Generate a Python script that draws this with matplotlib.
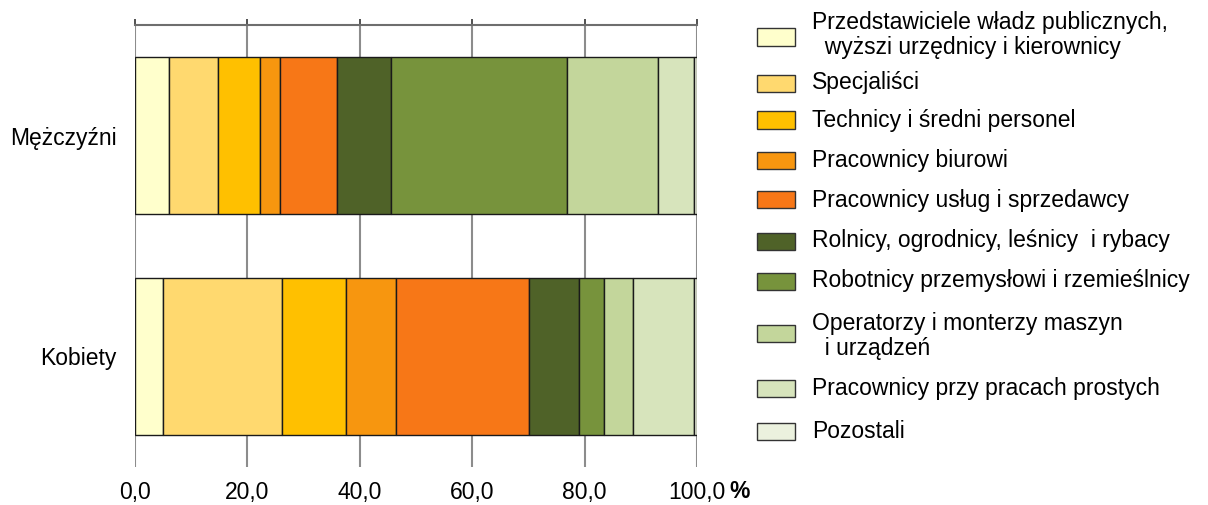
import matplotlib
matplotlib.use("Agg")
import matplotlib.pyplot as plt
from matplotlib.patches import Rectangle
import numpy as np

plt.rcParams['font.family'] = ['Liberation Sans', 'DejaVu Sans']

categories = ["Kobiety", "Mężczyźni"]
groups = [
    "Przedstawiciele władz publicznych,\n  wyższi urzędnicy i kierownicy",
    "Specjaliści",
    "Technicy i średni personel",
    "Pracownicy biurowi",
    "Pracownicy usług i sprzedawcy",
    "Rolnicy, ogrodnicy, leśnicy  i rybacy",
    "Robotnicy przemysłowi i rzemieślnicy",
    "Operatorzy i monterzy maszyn\n  i urządzeń",
    "Pracownicy przy pracach prostych",
    "Pozostali",
]
kobiety = [5.0, 21.1, 11.5, 8.9, 23.6, 8.9, 4.5, 5.1, 10.8, 0.6]
mezczyzni = [6.1, 8.6, 7.6, 3.5, 10.1, 9.6, 31.4, 16.1, 6.5, 0.5]
colors = ["#FFFFCC", "#FFD96F", "#FFC000", "#F7960F", "#F77717",
          "#4F6228", "#77933C", "#C3D69B", "#D7E4BC", "#EBF1DE"]
xticks = [0, 20, 40, 60, 80, 100]
xticklabels = ["0,0", "20,0", "40,0", "60,0", "80,0", "100,0"]

FS = 16.5
fig = plt.figure(figsize=(12.08, 5.05), dpi=100)
ax = fig.add_axes([135/1208, 38/505, 562/1208, 442/505])

data = np.array([kobiety, mezczyzni])
ypos = np.arange(len(categories))
left = np.zeros(len(categories))
for i in range(len(groups)):
    ax.barh(ypos, data[:, i], left=left, height=0.71, color=colors[i],
            edgecolor="#1a1a1a", linewidth=1.0, zorder=3)
    left += data[:, i]

ax.set_xlim(0, 100)
ax.set_ylim(-0.5, 1.5)
ax.set_yticks(ypos)
ax.set_yticklabels(categories, fontsize=FS)
ax.set_xticks(xticks)
ax.set_xticklabels(xticklabels, fontsize=FS)
ax.tick_params(axis='y', length=0, pad=13)
ax.tick_params(axis='x', bottom=False, top=True, labelbottom=True, labeltop=False,
               direction='out', length=4.3, color="#333333", width=1.2, pad=6)
ax.xaxis.grid(True, color="#8c8c8c", linewidth=1.5, zorder=0)
ax.set_axisbelow(True)
for s in ['left', 'right', 'bottom']:
    ax.spines[s].set_visible(False)
ax.spines['top'].set_color("#6e6e6e")
ax.spines['top'].set_linewidth(1.5)

fig.text(740/1208, 1 - 492/505, "%", fontsize=FS, fontweight='bold',
         ha='center', va='center')

# legend (manual)
box_y = [37, 84, 120, 160, 200, 241, 281, 333, 388, 431]
text_y = [35, 83, 120, 160, 200, 241, 281, 336, 388, 431]
W, H = 1208, 505
for i, g in enumerate(groups):
    fig.patches.append(Rectangle((757/W, 1 - (box_y[i] + 8.5)/H), 38/W, 17/H,
                                 transform=fig.transFigure, facecolor=colors[i],
                                 edgecolor="#333333", linewidth=1.0))
    fig.text(812/W, 1 - text_y[i]/H, g, fontsize=FS, ha='left', va='center',
             linespacing=1.1)

fig.savefig("out.png", dpi=100)
